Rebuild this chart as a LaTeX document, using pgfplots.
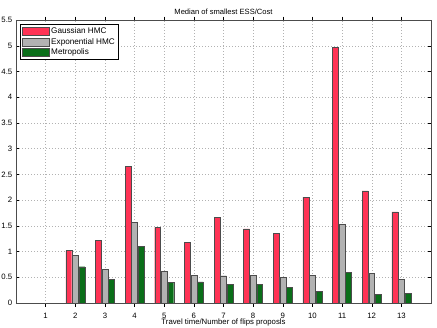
\documentclass[border=0pt]{standalone}
\usepackage{fontspec}
\setmainfont{Liberation Sans}
\usepackage{pgfplots}
\pgfplotsset{compat=1.18}
\definecolor{gred}{RGB}{255,51,85}
\definecolor{egray}{RGB}{178,178,178}
\definecolor{mgreen}{RGB}{10,110,25}
\begin{document}
\begin{tikzpicture}
\useasboundingbox (-16bp,-25bp) rectangle (421bp,303bp);
\begin{axis}[
  at={(0,0)}, anchor=south west,
  scale only axis,
  width=415bp, height=283bp,
  xmin=0, xmax=14, ymin=0, ymax=5.5,
  xtick={1,...,13},
  ytick={0,0.5,...,5.5},
  yticklabels={0,0.5,1,1.5,2,2.5,3,3.5,4,4.5,5,5.5},
  tick align=inside,
  major tick length=3.5bp,
  tick style={black, line width=0.4pt},
  xmajorgrids, ymajorgrids,
  grid style={dash pattern=on 0.5bp off 2.5bp, gray!60, line width=0.4pt},
  axis line style={line width=0.5pt, black!70},
  tick label style={font=\fontsize{7.8}{8}\selectfont},
  every x tick label/.style={anchor=base, yshift=-11.6bp},
  every y tick label/.style={anchor=east, inner sep=0pt, xshift=-3.5bp},
  /pgf/number format/assume math mode=true,
  title={Median of smallest ESS/Cost},
  every axis title/.style={font=\fontsize{7.6}{8}\selectfont, at={(0.5,1)}, anchor=base, yshift=6bp},
  xlabel={Travel time/Number of flips proposls},
  every axis x label/.style={font=\fontsize{7.8}{8}\selectfont, at={(0.5,0)}, anchor=base, yshift=-21.6bp},
  ybar, bar width=0.2,
  legend style={at={(0.0096,0.986)}, anchor=north west, font=\fontsize{8.2}{9}\selectfont,
    draw=black, line width=0.5pt, inner sep=1.5pt, row sep=-1pt, cells={anchor=west}},
  legend image code/.code={\draw[#1] (0bp,-4bp) rectangle (27bp,4bp);},
]
\addplot[fill=gred, draw=black!70, bar shift=-0.22] coordinates {
(2,1.02) (3,1.22) (4,2.66) (5,1.47) (6,1.18) (7,1.66) (8,1.44) (9,1.35) (10,2.06) (11,4.97) (12,2.18) (13,1.77)};
\addplot[fill=egray, draw=black!70, bar shift=0] coordinates {
(2,0.92) (3,0.66) (4,1.57) (5,0.62) (6,0.54) (7,0.53) (8,0.54) (9,0.505) (10,0.54) (11,1.535) (12,0.58) (13,0.465)};
\addplot[fill=mgreen, draw=black!70, bar shift=0.22] coordinates {
(2,0.705) (3,0.46) (4,1.10) (5,0.40) (6,0.41) (7,0.36) (8,0.36) (9,0.31) (10,0.23) (11,0.59) (12,0.17) (13,0.19)};
\legend{Gaussian HMC, Exponential HMC, Metropolis}
\end{axis}
\end{tikzpicture}
\end{document}
